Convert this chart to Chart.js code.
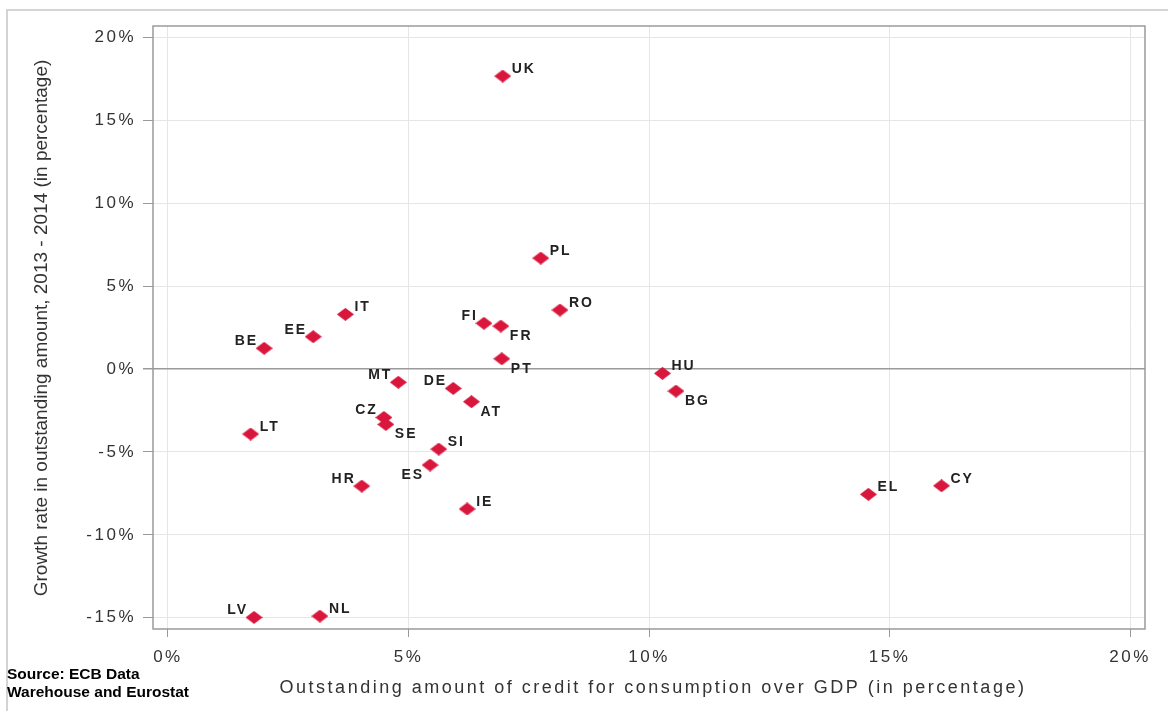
<!DOCTYPE html>
<html>
<head>
<meta charset="utf-8">
<script src="https://cdn.jsdelivr.net/npm/chart.js@4/dist/chart.umd.min.js"></script>
<style>
  html, body { margin: 0; padding: 0; background: #fff; }
  #wrap { position: relative; width: 1168px; height: 711px; }
</style>
</head>
<body>
<div id="wrap"><canvas id="grafico" width="1168" height="711"></canvas></div>
<script>
// datos: pais, credito al consumo / PIB (%), crecimiento 2013-2014 (%)
const countries   = ['UK', 'PL', 'RO', 'IT', 'EE', 'BE', 'FI', 'FR', 'PT', 'MT', 'DE', 'AT', 'CZ', 'SE', 'LT', 'SI', 'ES', 'HR', 'IE', 'LV', 'NL', 'HU', 'BG', 'EL', 'CY'];
const creditToGdp = [6.96, 7.75, 8.15, 3.69, 3.02, 2.0, 6.57, 6.92, 6.94, 4.79, 5.93, 6.31, 4.49, 4.53, 1.72, 5.63, 5.45, 4.03, 6.22, 1.79, 3.16, 10.28, 10.56, 14.56, 16.08];
const growthRate  = [17.67, 6.69, 3.56, 3.30, 1.95, 1.25, 2.76, 2.59, 0.62, -0.80, -1.17, -1.97, -2.92, -3.34, -3.92, -4.83, -5.79, -7.06, -8.44, -14.98, -14.90, -0.26, -1.33, -7.56, -7.04];
const xTicks = [0, 5, 10, 15, 20];
const yTicks = [-15, -10, -5, 0, 5, 10, 15, 20];

// donde va la etiqueta de cada punto
const labelPos = {
    UK: 'ne', PL: 'ne', RO: 'ne', IT: 'ne', EE: 'nw', BE: 'nw', FI: 'nw', FR: 'se', PT: 'se',
    MT: 'nw', DE: 'nw', AT: 'se', CZ: 'nw', SE: 'se', LT: 'ne', SI: 'ne', ES: 'sw', HR: 'nw',
    IE: 'ne', LV: 'nw', NL: 'ne', HU: 'ne', BG: 'se', EL: 'ne', CY: 'ne'
};

const ROJO = '#d9173c';
const TEXTO = '#333333';

function diamante(w, h, color) {
    const c = document.createElement('canvas');
    c.width = w;
    c.height = h;
    const g = c.getContext('2d');
    g.fillStyle = color;
    g.beginPath();
    g.moveTo(w / 2, 0);
    g.lineTo(w, h / 2);
    g.lineTo(w / 2, h);
    g.lineTo(0, h / 2);
    g.closePath();
    g.fill();
    return c;
}

// marco, caja del grafico y espaciado de letras
const decoracion = {
    id: 'decoracion',
    beforeDraw(chart) {
        const ctx = chart.ctx;
        ctx.save();
        ctx.fillStyle = '#d4d4d4';
        ctx.fillRect(7, 9, 1161, 2);
        ctx.fillRect(6, 9, 2, 702);
        ctx.restore();
        ctx.letterSpacing = '2.5px';
    },
    beforeDatasetsDraw(chart) {
        const { ctx, chartArea: a } = chart;
        ctx.save();
        ctx.strokeStyle = '#9a9a9a';
        ctx.lineWidth = 1.5;
        ctx.strokeRect(a.left, a.top, a.right - a.left, a.bottom - a.top);
        ctx.restore();
    },
    afterDraw(chart) {
        const ctx = chart.ctx;
        const xs = chart.scales.x;
        const ys = chart.scales.y;
        ctx.save();

        // etiquetas de los paises
        ctx.font = 'bold 14px "Liberation Sans", Arial, sans-serif';
        ctx.fillStyle = '#222';
        ctx.letterSpacing = '2px';
        ctx.textBaseline = 'middle';
        countries.forEach((c, i) => {
            const px = xs.getPixelForValue(creditToGdp[i]);
            const py = ys.getPixelForValue(growthRate[i]);
            const pos = labelPos[c];
            const dy = pos[0] === 'n' ? -7 : 10;
            if (pos[1] === 'e') {
                ctx.textAlign = 'left';
                ctx.fillText(c, px + 9, py + dy);
            } else {
                ctx.textAlign = 'right';
                ctx.fillText(c, px - 6, py + dy);
            }
        });

        // titulos de los ejes
        ctx.fillStyle = TEXTO;
        ctx.font = '18px "Liberation Sans", Arial, sans-serif';
        ctx.textAlign = 'center';
        ctx.letterSpacing = '2.5px';
        ctx.fillText('Outstanding amount of credit for consumption over GDP (in percentage)', 653, 688);

        ctx.letterSpacing = '0px';
        ctx.font = '19px "Liberation Sans", Arial, sans-serif';
        ctx.translate(42, 328);
        ctx.rotate(-Math.PI / 2);
        ctx.fillText('Growth rate in outstanding amount, 2013 - 2014 (in percentage)', 0, 0);
        ctx.setTransform(1, 0, 0, 1, 0, 0);

        // fuente
        ctx.fillStyle = '#000';
        ctx.font = 'bold 15.5px "Liberation Sans", Arial, sans-serif';
        ctx.textAlign = 'left';
        ctx.textBaseline = 'alphabetic';
        ctx.fillText('Source: ECB Data', 7, 679);
        ctx.fillText('Warehouse and Eurostat', 7, 697);
        ctx.restore();
    }
};

const fuenteTicks = { family: '"Liberation Sans", Arial, sans-serif', size: 17 };

new Chart(document.getElementById('grafico').getContext('2d'), {
    type: 'scatter',
    data: {
        datasets: [{
            label: 'Paises',
            data: countries.map((c, i) => ({ x: creditToGdp[i], y: growthRate[i] })),
            pointStyle: diamante(17, 13, ROJO),
            pointRadius: 8,
            pointHoverRadius: 8,
            backgroundColor: ROJO,
            borderColor: ROJO
        }]
    },
    options: {
        responsive: false,
        animation: false,
        devicePixelRatio: 1,
        layout: { padding: { top: 26, right: 23, bottom: 0, left: 0 } },
        plugins: {
            legend: { display: false },
            tooltip: { enabled: false },
            title: { display: false }
        },
        scales: {
            x: {
                type: 'linear',
                min: -0.31,
                max: 20.31,
                afterBuildTicks: s => { s.ticks = xTicks.map(v => ({ value: v })); },
                afterFit: s => { s.height = 82; },
                border: { display: false },
                grid: { color: '#e6e6e6', tickColor: '#9a9a9a', tickLength: 8, lineWidth: 1 },
                ticks: {
                    callback: v => v + '%',
                    font: fuenteTicks,
                    color: TEXTO,
                    padding: 10,
                    maxRotation: 0
                }
            },
            y: {
                type: 'linear',
                min: -15.68,
                max: 20.69,
                afterBuildTicks: s => { s.ticks = yTicks.map(v => ({ value: v })); },
                afterFit: s => { s.width = 153; },
                border: { display: false },
                grid: {
                    color: c => (c.tick && c.tick.value === 0) ? '#9a9a9a' : '#e6e6e6',
                    lineWidth: c => (c.tick && c.tick.value === 0) ? 1.5 : 1,
                    tickColor: '#9a9a9a',
                    tickLength: 10
                },
                ticks: {
                    callback: v => v + '%',
                    font: fuenteTicks,
                    color: TEXTO,
                    padding: 7
                }
            }
        }
    },
    plugins: [decoracion]
});
</script>
</body>
</html>
